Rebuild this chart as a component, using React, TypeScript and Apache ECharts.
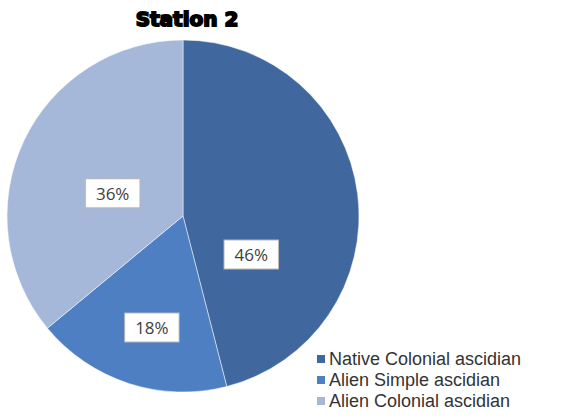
import React, { useEffect, useRef } from "react";
import * as echarts from "echarts";

const titleText = "Station 2";
const categories = ["Native Colonial ascidian", "Alien Simple ascidian", "Alien Colonial ascidian"];
const values = [46, 18, 36];
const colors = ["#41689e", "#4d7fc2", "#a6b8da"];
const labelOffsets: [number, number][] = [[-22, 50], [-3, 25], [12, 16]];

export default function App() {
  const ref = useRef<HTMLDivElement>(null);
  useEffect(() => {
    if (!ref.current) return;
    const chart = echarts.init(ref.current, undefined, { renderer: "svg" });
    chart.setOption({
      animation: false,
      backgroundColor: "#ffffff",
      title: {
        text: titleText,
        left: 182,
        textAlign: "center",
        top: 4,
        textStyle: {
          fontFamily: "DejaVu Sans",
          fontWeight: 900,
          fontSize: 20,
          color: "#000",
          textBorderColor: "#000",
          textBorderWidth: 1.8,
        },
      },
      legend: {
        orient: "vertical",
        left: 310,
        top: 345,
        itemWidth: 10,
        itemHeight: 10,
        itemGap: 3,
        icon: "rect",
        data: categories,
        textStyle: { fontFamily: "Liberation Sans", fontSize: 18, lineHeight: 18, color: "#333", padding: [0, 0, 0, -2] },
      },
      series: [
        {
          type: "pie",
          center: [183, 216],
          radius: 176,
          startAngle: 90,
          clockwise: true,
          itemStyle: { borderColor: "#ffffff", borderWidth: 0.5 },
          label: {
            position: "inside",
            formatter: "{c}%",
            fontFamily: "Open Sans",
            fontSize: 17,
            color: "#404040",
            backgroundColor: "#ffffff",
            borderColor: "#b8b8b8",
            borderWidth: 1,
            padding: [6, 10, 5, 10],
          },
          labelLine: { show: false },
          data: categories.map((name, i) => ({
            name,
            value: values[i],
            itemStyle: { color: colors[i] },
            label: { offset: labelOffsets[i] },
          })),
        },
      ],
    });
    return () => chart.dispose();
  }, []);
  return <div ref={ref} style={{ position: "fixed", left: 0, top: 0, width: 586, height: 419 }} />;
}
